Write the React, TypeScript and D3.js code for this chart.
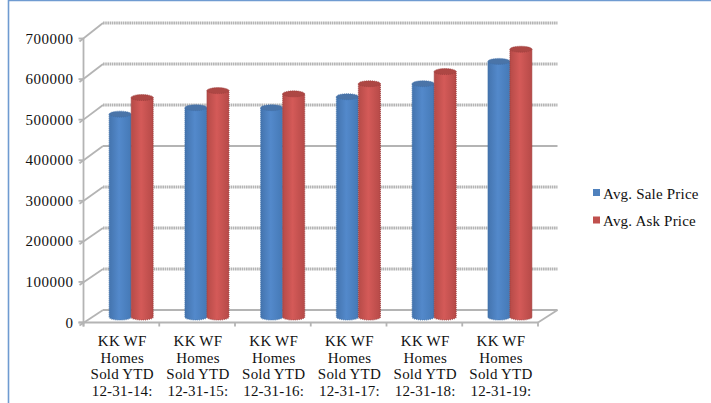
import React from "react";
import * as d3 from "d3";

const categories = ["12-31-14:", "12-31-15:", "12-31-16:", "12-31-17:", "12-31-18:", "12-31-19:"];
const labelLines = ["KK WF", "Homes", "Sold YTD"];
const salePrice = [500000, 516000, 516000, 543000, 575000, 630000];
const askPrice = [541000, 558000, 550000, 575000, 605000, 660000];
const yTicks = [0, 100000, 200000, 300000, 400000, 500000, 600000, 700000];
const solidGrid = [0, 400000];
const seriesNames = ["Avg. Sale Price", "Avg. Ask Price"];
const seriesColors = ["#4f81bd", "#c0504d"];

const W = 711;
const H = 403;
const FONT = "'Liberation Serif', 'Times New Roman', serif";
const GRID = "#b4b4b4";

// Front plane of the 3D box and its back wall, which is drawn slightly larger.
const frontLeft = 83.5;
const frontRight = 538;
const depthX = 19.5;
const y = d3.scaleLinear().domain([0, 700000]).range([322.5, 38.5]);
const yBack = d3.scaleLinear().domain([0, 700000]).range([310, 23]);
const x = d3.scaleBand<string>().domain(categories).range([frontLeft, frontRight]);

// Bars stand part-way into the floor.
const barShiftX = 9.8;
const barShiftY = -5.5;
const barW = 22;

function Cylinder({ cx, value, series }: { cx: number; value: number; series: number }) {
  const left = cx + barShiftX + (series - 1) * barW;
  const top = y(value) + barShiftY;
  const bottom = y(0) + barShiftY;
  const rx = barW / 2;
  const ry = 3;
  const id = series === 0 ? "sale" : "ask";
  const edge = series === 0 ? "#3f6fa8" : "#9c3f3d";
  const outline = `M${left},${top}V${bottom}A${rx},${ry} 0 0 0 ${left + barW},${bottom}V${top}`;
  return (
    <g>
      <path d={`${outline}Z`} fill={`url(#${id})`} />
      <path d={outline} fill="none" stroke={edge} strokeWidth={1.2} strokeDasharray="1 1" opacity={0.8} />
      <ellipse
        cx={left + rx}
        cy={top}
        rx={rx}
        ry={ry}
        fill={series === 0 ? "#4a74a8" : "#ad4744"}
        stroke={edge}
        strokeWidth={0.8}
        strokeDasharray="1 1"
      />
    </g>
  );
}

export default function App() {
  const steps = d3.range(categories.length + 1).map((i) => frontLeft + i * x.bandwidth());
  return (
    <svg
      width={W}
      height={H}
      viewBox={`0 0 ${W} ${H}`}
      style={{ position: "absolute", left: 0, top: 0, background: "#fff" }}
    >
      <defs>
        <linearGradient id="sale" x1="0" x2="1" y1="0" y2="0">
          <stop offset="0" stopColor="#4474ae" />
          <stop offset="0.45" stopColor="#5389cb" />
          <stop offset="1" stopColor="#4579b6" />
        </linearGradient>
        <linearGradient id="ask" x1="0" x2="1" y1="0" y2="0">
          <stop offset="0" stopColor="#b64b48" />
          <stop offset="0.45" stopColor="#d45a58" />
          <stop offset="1" stopColor="#b64a48" />
        </linearGradient>
      </defs>

      {/* Frame */}
      <line x1={8.5} x2={8.5} y1={0} y2={H} stroke="#6f9bd1" strokeWidth={1.6} />
      <line x1={8} x2={W} y1={0.5} y2={0.5} stroke="#6f9bd1" strokeWidth={1.4} />

      {/* Back wall gridlines and their side-wall diagonals */}
      {yTicks.map((t) => (
        <g key={t}>
          <line
            x1={frontLeft + depthX}
            x2={frontRight + depthX}
            y1={yBack(t)}
            y2={yBack(t)}
            stroke={GRID}
            strokeWidth={solidGrid.includes(t) ? 1.8 : 2.8}
            strokeDasharray={solidGrid.includes(t) ? undefined : "1.6 0.6"}
          />
          <line
            x1={frontLeft - 4}
            x2={frontLeft + depthX}
            y1={y(t) + 3}
            y2={yBack(t)}
            stroke={GRID}
            strokeWidth={1.8}
          />
          <text
            x={73.5}
            y={y(t) + 5}
            textAnchor="end"
            fontFamily={FONT}
            fontSize={15}
            letterSpacing={0.5}
            fill="#111"
          >
            {t}
          </text>
          <line x1={frontLeft - 5} x2={frontLeft} y1={y(t)} y2={y(t)} stroke={GRID} strokeWidth={1.8} />
        </g>
      ))}

      {/* Axes and floor */}
      <line x1={frontLeft} x2={frontLeft} y1={y(700000)} y2={y(0) + 4} stroke={GRID} strokeWidth={1.8} />
      <line x1={frontLeft - 5} x2={frontRight} y1={y(0)} y2={y(0)} stroke={GRID} strokeWidth={1.8} />
      <line
        x1={frontRight}
        x2={frontRight + depthX}
        y1={y(0)}
        y2={yBack(0)}
        stroke={GRID}
        strokeWidth={1.8}
      />
      {steps.map((s) => (
        <line key={s} x1={s} x2={s} y1={y(0)} y2={y(0) + 4} stroke={GRID} strokeWidth={1.8} />
      ))}

      {/* Bars */}
      {categories.map((c, i) => {
        const cx = (x(c) as number) + x.bandwidth() / 2;
        return (
          <g key={c}>
            <Cylinder cx={cx} value={salePrice[i]} series={0} />
            <Cylinder cx={cx} value={askPrice[i]} series={1} />
          </g>
        );
      })}

      {/* Category labels */}
      {categories.map((c) => {
        const cx = (x(c) as number) + x.bandwidth() / 2 + 0.8;
        return (
          <text key={c} textAnchor="middle" fontFamily={FONT} fontSize={15} letterSpacing={0.2} fill="#111">
            {[...labelLines, c].map((line, j) => (
              <tspan key={j} x={cx} y={346 + j * 16.6}>
                {line}
              </tspan>
            ))}
          </text>
        );
      })}

      {/* Legend */}
      {seriesNames.map((name, i) => (
        <g key={name}>
          <rect x={593} y={189 + i * 27.5} width={7} height={7} fill={seriesColors[i]} />
          <text x={603} y={199 + i * 27} fontFamily={FONT} fontSize={15} letterSpacing={0.2} fill="#111">
            {name}
          </text>
        </g>
      ))}
    </svg>
  );
}
